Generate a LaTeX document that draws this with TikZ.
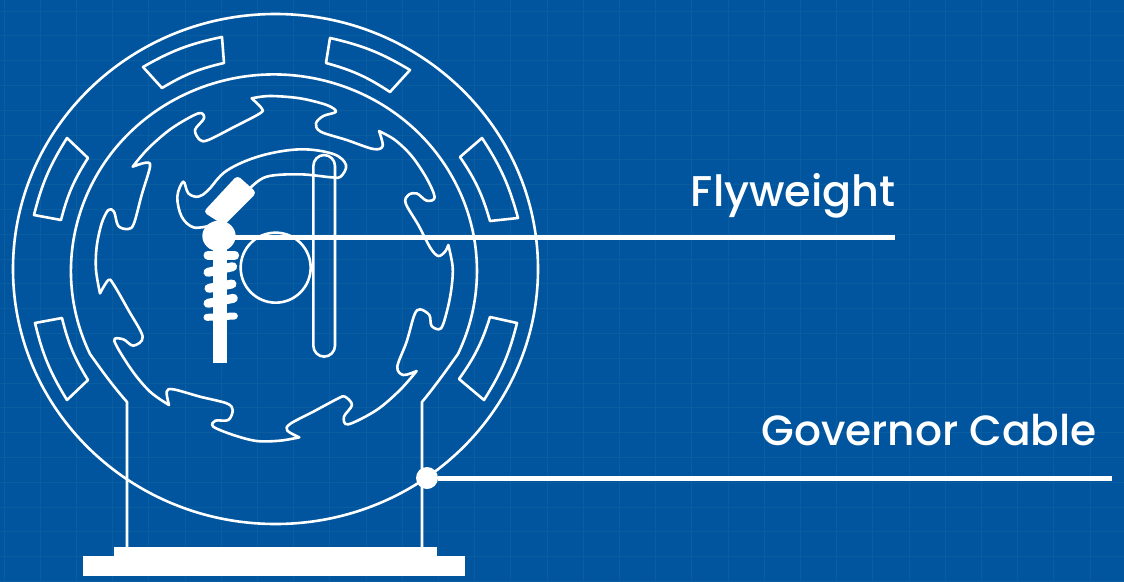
\documentclass[tikz,border=0pt]{standalone}
\usepackage{fontspec}
\setmainfont{Poppins Medium}
\usetikzlibrary{calc}
\definecolor{bgblue}{HTML}{01559E}
\definecolor{gridblue}{HTML}{0A5EA0}
\tikzset{
  thinline/.style={draw=white, line width=2.6pt, line join=round},
  solidpart/.style={fill=white, draw=none},
  leader/.style={draw=white, line width=5pt},
  coil/.style={draw=white, line width=9pt, line cap=round},
  tag/.style={text=white, font=\fontsize{43}{43}\selectfont, inner sep=0pt, anchor=base east},
  gridline/.style={draw=gridblue, line width=0.8pt},
}
\begin{document}
\begin{tikzpicture}[x=1pt, y=1pt, yscale=-1]
  % background and grid
  \fill[bgblue] (0,0) rectangle (1124,581);
  \useasboundingbox (0,0) rectangle (1124,581);
  \foreach \gx in {0,...,30} \draw[gridline] ({4+36.2*\gx},0) -- ({4+36.2*\gx},581);
  \foreach \gy in {0,...,23} \draw[gridline] (0,{11+24.8*\gy}) -- (1124,{11+24.8*\gy});
  %
  \coordinate (legl) at (127,402);
  \coordinate (legr) at (422,402);
  \coordinate (footl) at (127,547);
  \coordinate (footr) at (422,547);
  %
  % housing
  \draw[thinline] (275.5,269) ellipse [x radius=262.5, y radius=255];
  \draw[thinline] (footl) -- (legl) .. controls (112,385) and (100,368) .. (90,354)
    arc [start angle=155, end angle=385, x radius=203, y radius=196.5]
    .. controls (448,368) and (436,385) .. (legr) -- (footr);
  %
  % base
  \fill[solidpart] (114,547) rectangle (437,557);
  \fill[solidpart] (83,556) rectangle (465,576);
  %
  % magnets
  \draw[thinline] (222,37) -- (224,63) to[bend left=9] (162,88) -- (143,67) to[bend right=9] cycle;
  \draw[thinline] (330,38) to[bend right=9] (410,70) -- (390,92) to[bend left=9] (326,63) -- cycle;
  \draw[thinline] (482,138) to[bend right=9] (518,218) -- (490,221) to[bend left=9] (460,157) -- cycle;
  \draw[thinline] (490,317) -- (517,323) to[bend right=9] (484,400) -- (459,379) to[bend left=9] cycle;
  \draw[thinline] (62,318) to[bend left=9] (88,380) -- (67,400) to[bend right=9] (35,323) -- cycle;
  \draw[thinline] (67,138) -- (88,158) to[bend left=9] (61,220) -- (34,215) to[bend right=9] cycle;
  %
  \begin{scope}[shift={(60,80)}, scale=1/3]
    % toothed rotor
    \draw[thinline] plot[smooth, tension=0.55] coordinates {(575,55) (630,48) (720,55) (800,75) (828,95) (790,108) (768,130) (782,155) (860,180) (940,207) (968,198) (957,153)}
      -- plot[smooth, tension=0.55] coordinates {(957,153) (1005,180) (1055,228) (1100,295) (1124,352) (1100,362) (1070,340) (1045,345) (1037,370) (1075,435) (1112,505) (1135,528) (1155,515) (1165,495)}
      -- plot[smooth, tension=0.55] coordinates {(1165,495) (1178,560) (1175,620) (1163,685) (1143,745) (1115,738) (1108,705) (1080,688) (1063,705) (1040,785) (1012,860) (1030,885) (1070,873)}
      -- plot[smooth, tension=0.55] coordinates {(1070,873) (1020,930) (950,990) (865,1033) (852,1010) (876,975) (855,950) (835,955) (760,995) (690,1032) (682,1052) (718,1072)}
      -- plot[smooth, tension=0.55] coordinates {(718,1072) (660,1082) (590,1083) (520,1065) (460,1040) (466,1022) (505,1020) (518,990) (500,970) (420,950) (340,928) (320,935) (327,975)}
      -- plot[smooth, tension=0.55] coordinates {(327,975) (270,935) (215,870) (163,783) (190,778) (220,797) (248,770) (205,690) (160,612) (145,600) (120,640)}
      -- plot[smooth, tension=0.55] coordinates {(120,640) (108,570) (110,500) (125,430) (145,390) (162,395) (175,438) (205,447) (222,430) (245,345) (270,260) (258,248) (218,260)}
      -- plot[smooth, tension=0.55] coordinates {(218,260) (265,205) (335,145) (415,100) (432,115) (405,150) (420,180) (445,180) (520,142) (600,100) (605,85) (575,55)} -- cycle;
    %
    % flyweight arm
    \draw[thinline] plot[smooth, tension=0.6] coordinates {(445,438) (400,442) (365,410) (352,350) (370,305) (385,340) (415,350) (445,330) (500,272) (600,228) (720,208) (820,222) (858,255) (842,290) (815,292) (720,283) (620,290) (570,325)};
    \draw[thinline, rounded corners=11pt] (760,225) rectangle (825,830);
    \draw[thinline] (647,563) circle [radius=105];
    %
    % weight, pivot and spring
    \fill[solidpart, rounded corners=4pt] (532,286) -- (590,338) -- (492,436) -- (430,396) -- cycle;
    \fill[solidpart] (477,468) ellipse [x radius=50, y radius=46];
    \fill[solidpart] (460,480) rectangle (500,850);
    \draw[coil] (444,525) -- (524,525);
    \draw[coil] (444,577) -- (518,560);
    \draw[coil] (447,625) -- (516,612);
    \draw[coil] (444,670) -- (520,655);
    \draw[coil, line width=7pt] (441,712) -- (523,708);
  \end{scope}
  %
  % leaders
  \coordinate (pivot) at (219,237.5);
  \coordinate (flyend) at (895,237.5);
  \coordinate (cableend) at (1112,478);
  \node[circle, fill=white, minimum size=22pt, inner sep=0pt] (cabledot) at (427,478) {};
  \draw[leader] (pivot) -- (flyend);
  \draw[leader] (cabledot) -- (cableend);
  %
  \node[tag] (flylabel) at (896,206) {Flyweight};
  \node[tag, font=\fontsize{42.3}{43}\selectfont] (cablelabel) at (1097,445) {Governor Cable};
\end{tikzpicture}
\end{document}
